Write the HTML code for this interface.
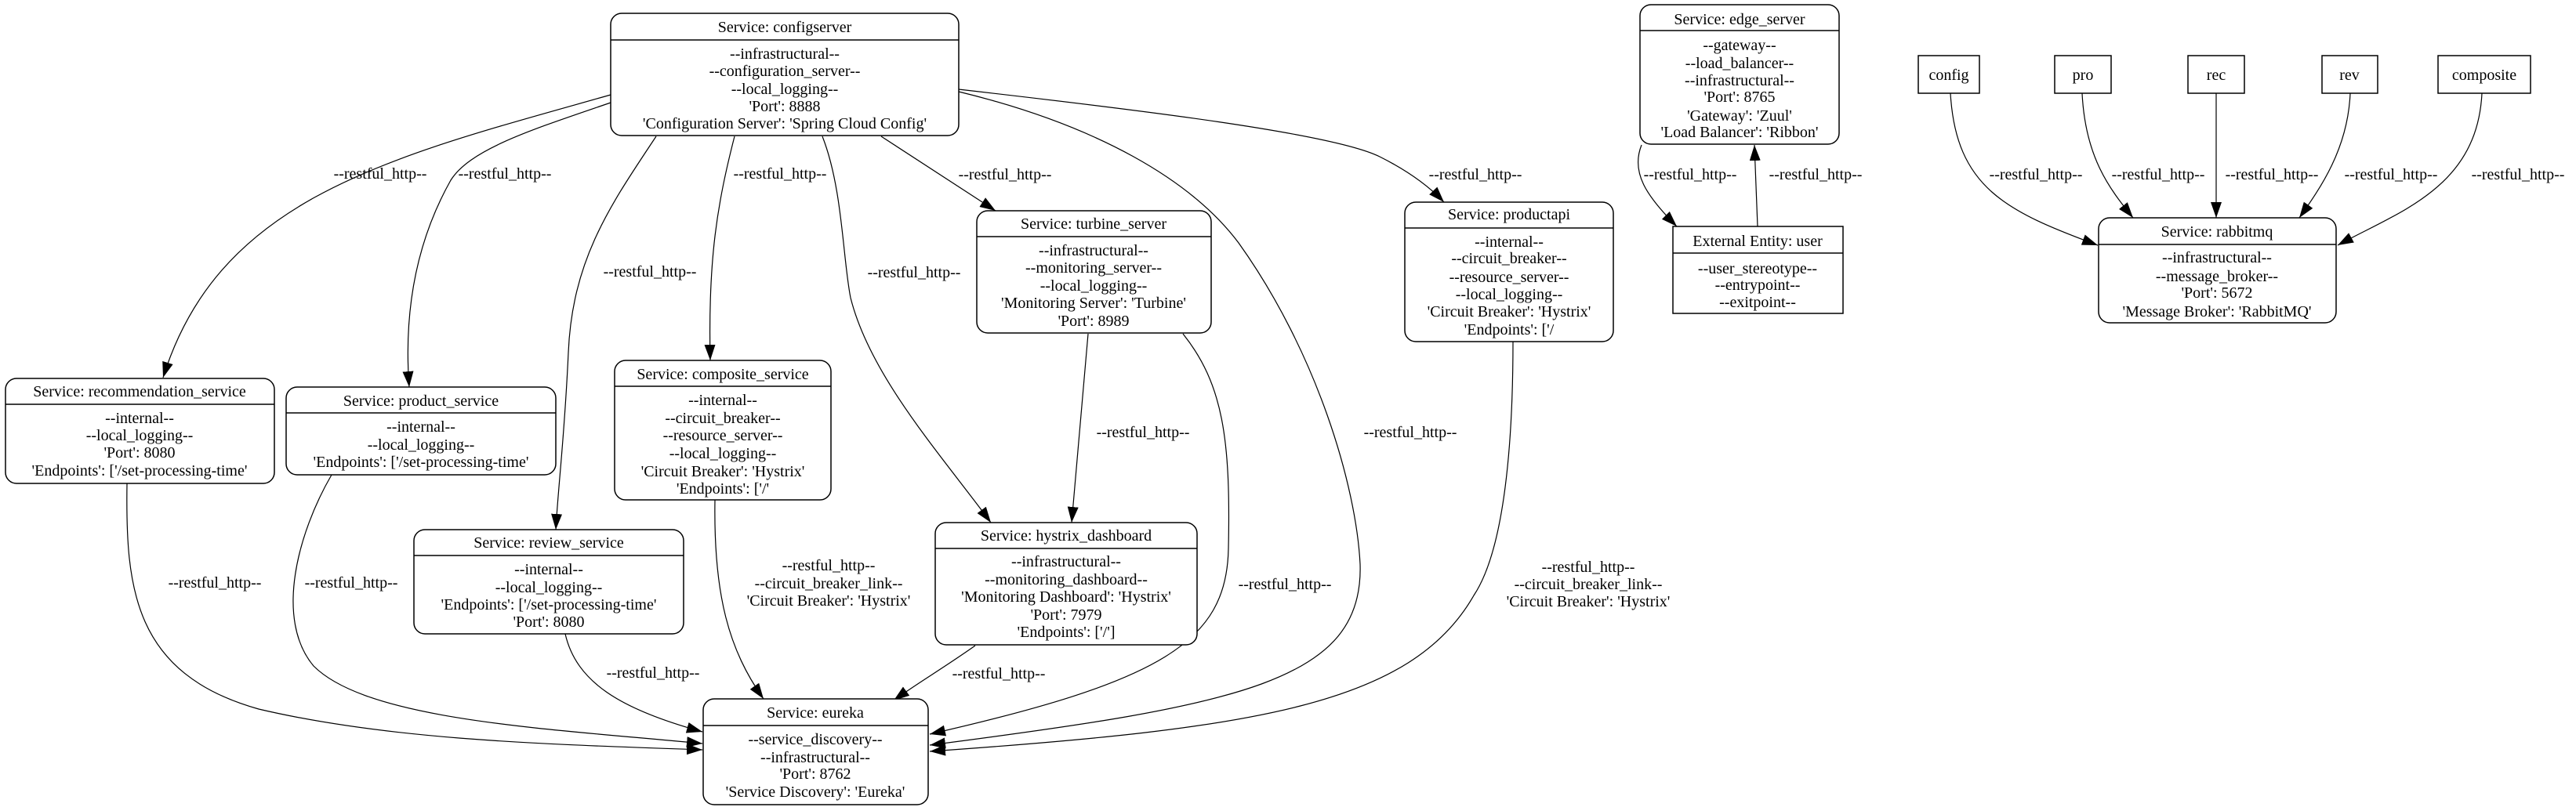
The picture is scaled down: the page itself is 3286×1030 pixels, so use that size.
<!DOCTYPE html>
<html><head><meta charset="utf-8"><style>
html,body{margin:0;padding:0;background:#fff}
svg{display:block}
text{font-family:"Liberation Serif",serif;font-size:20px;fill:#000}
.n{fill:#fff;stroke:#000;stroke-width:1.5}
.e{fill:none;stroke:#000;stroke-width:1.2}
</style></head><body>
<svg width="3286" height="1030" viewBox="0 0 3286 1030" xmlns="http://www.w3.org/2000/svg">
<defs><marker id="a" markerUnits="userSpaceOnUse" markerWidth="22" markerHeight="16" refX="20" refY="7" orient="auto"><path d="M0,0 L20,7 L0,14 z" fill="#000"/></marker></defs>
<g text-anchor="middle">
<!-- edges -->
<path class="e" marker-end="url(#a)" d="M779,121 C500,200 280,250 208,482"/>
<path class="e" marker-end="url(#a)" d="M779,131 C680,165 600,190 575,230 C530,310 515,400 522,494"/>
<path class="e" marker-end="url(#a)" d="M837,174 C780,260 730,330 725,450 C720,560 712,620 709,676"/>
<path class="e" marker-end="url(#a)" d="M937,174 C915,260 903,330 906,460"/>
<path class="e" marker-end="url(#a)" d="M1049,174 C1075,240 1075,330 1085,380 C1110,480 1200,580 1264,667"/>
<path class="e" marker-end="url(#a)" d="M1124,174 L1270,269"/>
<path class="e" marker-end="url(#a)" d="M1223,114 C1450,140 1700,170 1760,200 C1800,220 1825,240 1842,258"/>
<path class="e" marker-end="url(#a)" d="M1223,117 C1400,160 1520,230 1580,310 C1680,450 1730,620 1735,720 C1740,870 1580,900 1186,951"/>
<path class="e" marker-end="url(#a)" d="M1509,426 C1560,490 1570,560 1567,700 C1565,820 1480,870 1186,937"/>
<path class="e" marker-end="url(#a)" d="M1930,436 C1930,560 1920,700 1880,760 C1800,900 1600,930 1186,959"/>
<path class="e" marker-end="url(#a)" d="M1388,426 L1367,667"/>
<path class="e" marker-end="url(#a)" d="M1244,824 C1200,855 1170,872 1140,894"/>
<path class="e" marker-end="url(#a)" d="M162,617 C160,750 170,860 330,905 C500,945 700,950 896,957"/>
<path class="e" marker-end="url(#a)" d="M423,606 C380,680 350,790 400,850 C470,920 700,930 896,949"/>
<path class="e" marker-end="url(#a)" d="M721,809 C735,870 790,905 896,934"/>
<path class="e" marker-end="url(#a)" d="M912,638 C910,760 930,830 974,892"/>
<path class="e" marker-end="url(#a)" d="M2094,185 C2080,220 2100,250 2139,289"/>
<path class="e" marker-end="url(#a)" d="M2242,289 L2238,185"/>
<path class="e" marker-end="url(#a)" d="M2488,119 C2495,240 2560,270 2676,313"/>
<path class="e" marker-end="url(#a)" d="M2656,119 C2660,200 2690,240 2721,278"/>
<path class="e" marker-end="url(#a)" d="M2827,119 L2827,278"/>
<path class="e" marker-end="url(#a)" d="M2998,119 C2995,190 2960,240 2933,278"/>
<path class="e" marker-end="url(#a)" d="M3166,119 C3160,240 3060,270 2982,313"/>

<!-- edge labels -->
<text x="485" y="228">--restful_http--</text>
<text x="644" y="228">--restful_http--</text>
<text x="995" y="228">--restful_http--</text>
<text x="1282" y="229">--restful_http--</text>
<text x="1882" y="229">--restful_http--</text>
<text x="829" y="353">--restful_http--</text>
<text x="1166" y="354">--restful_http--</text>
<text x="1458" y="558">--restful_http--</text>
<text x="1799" y="558">--restful_http--</text>
<text x="274" y="750">--restful_http--</text>
<text x="448" y="750">--restful_http--</text>
<text x="1639" y="752">--restful_http--</text>
<text x="833" y="865">--restful_http--</text>
<text x="1274" y="866">--restful_http--</text>
<text x="1057" y="728">--restful_http--</text>
<text x="1057" y="751">--circuit_breaker_link--</text>
<text x="1057" y="773">'Circuit Breaker': 'Hystrix'</text>
<text x="2026" y="730">--restful_http--</text>
<text x="2026" y="752">--circuit_breaker_link--</text>
<text x="2026" y="774">'Circuit Breaker': 'Hystrix'</text>
<text x="2156" y="229">--restful_http--</text>
<text x="2316" y="229">--restful_http--</text>
<text x="2597" y="229">--restful_http--</text>
<text x="2753" y="229">--restful_http--</text>
<text x="2898" y="229">--restful_http--</text>
<text x="3050" y="229">--restful_http--</text>
<text x="3212" y="229">--restful_http--</text>

<!-- configserver -->
<rect class="n" x="779" y="17" width="444" height="156" rx="14"/><line x1="779" y1="51" x2="1223" y2="51" stroke="#000" stroke-width="1.5"/>
<text x="1001" y="41">Service: configserver</text>
<text x="1001" y="75">--infrastructural--</text><text x="1001" y="97">--configuration_server--</text><text x="1001" y="120">--local_logging--</text><text x="1001" y="142">'Port': 8888</text><text x="1001" y="164">'Configuration Server': 'Spring Cloud Config'</text>

<!-- recommendation -->
<rect class="n" x="7" y="483" width="343" height="134" rx="14"/><line x1="7" y1="516" x2="350" y2="516" stroke="#000" stroke-width="1.5"/>
<text x="178" y="506">Service: recommendation_service</text>
<text x="178" y="540">--internal--</text><text x="178" y="562">--local_logging--</text><text x="178" y="584">'Port': 8080</text><text x="178" y="607">'Endpoints': ['/set-processing-time'</text>

<!-- product -->
<rect class="n" x="365" y="494" width="344" height="112" rx="14"/><line x1="365" y1="527" x2="709" y2="527" stroke="#000" stroke-width="1.5"/>
<text x="537" y="518">Service: product_service</text>
<text x="537" y="551">--internal--</text><text x="537" y="574">--local_logging--</text><text x="537" y="596">'Endpoints': ['/set-processing-time'</text>

<!-- composite -->
<rect class="n" x="784" y="460" width="276" height="178" rx="14"/><line x1="784" y1="493" x2="1060" y2="493" stroke="#000" stroke-width="1.5"/>
<text x="922" y="484">Service: composite_service</text>
<text x="922" y="517">--internal--</text><text x="922" y="540">--circuit_breaker--</text><text x="922" y="562">--resource_server--</text><text x="922" y="585">--local_logging--</text><text x="922" y="608">'Circuit Breaker': 'Hystrix'</text><text x="922" y="630">'Endpoints': ['/'</text>

<!-- review -->
<rect class="n" x="528" y="676" width="344" height="133" rx="14"/><line x1="528" y1="709" x2="872" y2="709" stroke="#000" stroke-width="1.5"/>
<text x="700" y="699">Service: review_service</text>
<text x="700" y="733">--internal--</text><text x="700" y="756">--local_logging--</text><text x="700" y="778">'Endpoints': ['/set-processing-time'</text><text x="700" y="800">'Port': 8080</text>

<!-- eureka -->
<rect class="n" x="897" y="892" width="287" height="135" rx="14"/><line x1="897" y1="926" x2="1184" y2="926" stroke="#000" stroke-width="1.5"/>
<text x="1040" y="916">Service: eureka</text>
<text x="1040" y="950">--service_discovery--</text><text x="1040" y="973">--infrastructural--</text><text x="1040" y="994">'Port': 8762</text><text x="1040" y="1017">'Service Discovery': 'Eureka'</text>

<!-- turbine -->
<rect class="n" x="1246" y="269" width="299" height="156" rx="14"/><line x1="1246" y1="302" x2="1545" y2="302" stroke="#000" stroke-width="1.5"/>
<text x="1395" y="292">Service: turbine_server</text>
<text x="1395" y="326">--infrastructural--</text><text x="1395" y="348">--monitoring_server--</text><text x="1395" y="371">--local_logging--</text><text x="1395" y="393">'Monitoring Server': 'Turbine'</text><text x="1395" y="416">'Port': 8989</text>

<!-- hystrix -->
<rect class="n" x="1193" y="667" width="334" height="156" rx="14"/><line x1="1193" y1="700" x2="1527" y2="700" stroke="#000" stroke-width="1.5"/>
<text x="1360" y="690">Service: hystrix_dashboard</text>
<text x="1360" y="723">--infrastructural--</text><text x="1360" y="746">--monitoring_dashboard--</text><text x="1360" y="768">'Monitoring Dashboard': 'Hystrix'</text><text x="1360" y="791">'Port': 7979</text><text x="1360" y="813">'Endpoints': ['/']</text>

<!-- productapi -->
<rect class="n" x="1792" y="258" width="266" height="178" rx="14"/><line x1="1792" y1="291" x2="2058" y2="291" stroke="#000" stroke-width="1.5"/>
<text x="1925" y="280">Service: productapi</text>
<text x="1925" y="315">--internal--</text><text x="1925" y="336">--circuit_breaker--</text><text x="1925" y="360">--resource_server--</text><text x="1925" y="382">--local_logging--</text><text x="1925" y="404">'Circuit Breaker': 'Hystrix'</text><text x="1925" y="427">'Endpoints': ['/</text>

<!-- edge_server -->
<rect class="n" x="2092" y="6" width="254" height="178" rx="14"/><line x1="2092" y1="39" x2="2346" y2="39" stroke="#000" stroke-width="1.5"/>
<text x="2219" y="31">Service: edge_server</text>
<text x="2219" y="64">--gateway--</text><text x="2219" y="87">--load_balancer--</text><text x="2219" y="109">--infrastructural--</text><text x="2219" y="130">'Port': 8765</text><text x="2219" y="154">'Gateway': 'Zuul'</text><text x="2219" y="175">'Load Balancer': 'Ribbon'</text>

<!-- user -->
<rect class="n" x="2134" y="289" width="217" height="111"/><line x1="2134" y1="323" x2="2351" y2="323" stroke="#000" stroke-width="1.5"/>
<text x="2242" y="314">External Entity: user</text>
<text x="2242" y="349">--user_stereotype--</text><text x="2242" y="370">--entrypoint--</text><text x="2242" y="392">--exitpoint--</text>

<!-- small boxes -->
<rect class="n" x="2447" y="71" width="78" height="48"/><text x="2486" y="102">config</text>
<rect class="n" x="2621" y="71" width="72" height="48"/><text x="2657" y="102">pro</text>
<rect class="n" x="2791" y="71" width="72" height="48"/><text x="2827" y="102">rec</text>
<rect class="n" x="2962" y="71" width="71" height="48"/><text x="2997" y="102">rev</text>
<rect class="n" x="3110" y="71" width="118" height="48"/><text x="3169" y="102">composite</text>

<!-- rabbitmq -->
<rect class="n" x="2677" y="278" width="303" height="134" rx="14"/><line x1="2677" y1="312" x2="2980" y2="312" stroke="#000" stroke-width="1.5"/>
<text x="2828" y="302">Service: rabbitmq</text>
<text x="2828" y="335">--infrastructural--</text><text x="2828" y="359">--message_broker--</text><text x="2828" y="380">'Port': 5672</text><text x="2828" y="404">'Message Broker': 'RabbitMQ'</text>
</g>
</svg>
</body></html>
